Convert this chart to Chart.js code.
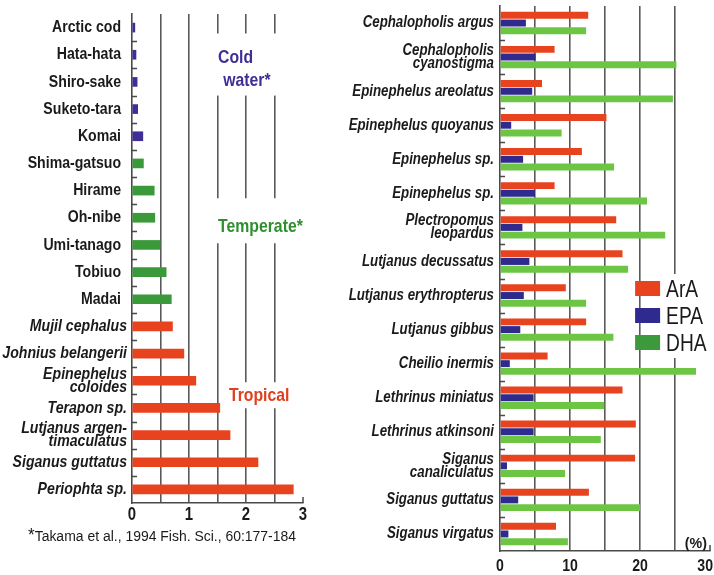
<!DOCTYPE html>
<html>
<head>
<meta charset="utf-8">
<script src="https://cdn.jsdelivr.net/npm/chart.js@4.4.1/dist/chart.umd.min.js"></script>
<style>
  html, body { margin: 0; padding: 0; background: #fff; }
  body { width: 714px; height: 575px; position: relative; overflow: hidden; }
  #left { position: absolute; left: 0; top: 0; }
  #right { position: absolute; left: 330px; top: 0; }
  #note {
    position: absolute; left: 28px; top: 527px; white-space: nowrap;
    transform: scaleX(0.9); transform-origin: left top;
    font: 15.5px 'Liberation Sans', Arial, sans-serif; color: #1a1a1a;
  }
  #note span { font-size: 19px; line-height: 10px; }
</style>
</head>
<body>
<canvas id="left" width="320" height="575"></canvas>
<canvas id="right" width="384" height="575"></canvas>
<div id="note"><span>*</span>Takama et al., 1994 Fish. Sci., 60:177-184</div>
<script>
// ---- Left panel: ArA content by species, grouped by habitat ----
const leftSpecies = [
  'Arctic cod', 'Hata-hata', 'Shiro-sake', 'Suketo-tara', 'Komai',
  'Shima-gatsuo', 'Hirame', 'Oh-nibe', 'Umi-tanago', 'Tobiuo', 'Madai',
  'Mujil cephalus', 'Johnius belangerii', ['Epinephelus', 'coloides'], 'Terapon sp.',
  ['Lutjanus argen-', 'timaculatus'], 'Siganus guttatus', 'Periophta sp.'
];
const leftValues = [0.05, 0.07, 0.09, 0.10, 0.19, 0.20, 0.39, 0.40, 0.49, 0.60, 0.69,
                    0.71, 0.91, 1.12, 1.54, 1.72, 2.21, 2.83];
const leftHabitat = ['cold', 'cold', 'cold', 'cold', 'cold',
  'temperate', 'temperate', 'temperate', 'temperate', 'temperate', 'temperate',
  'tropical', 'tropical', 'tropical', 'tropical', 'tropical', 'tropical', 'tropical'];
const leftTickLabels = [0, 1, 2, 3];

// ---- Right panel: ArA / EPA / DHA (%) in tropical reef fish ----
const rightSpecies = [
  'Cephalopholis argus', ['Cephalopholis', 'cyanostigma'], 'Epinephelus areolatus',
  'Epinephelus quoyanus', 'Epinephelus sp.', 'Epinephelus sp.', ['Plectropomus', 'leopardus'],
  'Lutjanus decussatus', 'Lutjanus erythropterus', 'Lutjanus gibbus', 'Cheilio inermis',
  'Lethrinus miniatus', 'Lethrinus atkinsoni', ['Siganus', 'canaliculatus'],
  'Siganus guttatus', 'Siganus virgatus'
];
const araValues = [12.6, 7.8, 6.0, 15.2, 11.7, 7.8, 16.6, 17.5, 9.4, 12.3, 6.8, 17.5, 19.4, 19.3, 12.7, 8.0];
const epaValues = [3.7, 5.1, 4.6, 1.6, 3.3, 5.0, 3.2, 4.2, 3.4, 2.9, 1.4, 4.8, 4.8, 1.0, 2.6, 1.2];
const dhaValues = [12.3, 25.2, 24.7, 8.8, 16.3, 21.0, 23.6, 18.3, 12.3, 16.2, 28.0, 14.9, 14.4, 9.3, 20.0, 9.7];
const seriesNames = ['ArA', 'EPA', 'DHA'];
const rightTickLabels = [0, 10, 20, 30];

// ---- Styling ----
const FONT = "'Liberation Sans', Arial, sans-serif";
const NARROW = 0.83;          // horizontal squeeze giving a condensed face
const INK = '#1a1a1a';
const AXIS = '#4a4a4a';
const GRID = '#5a5a5a';
const RED = '#e8431f';
const habitatColor = { cold: '#3d2f96', temperate: '#3a9a3a', tropical: RED };
const habitatTextColor = { cold: '#3d2f96', temperate: '#2f8f2f', tropical: '#e0401e' };
const seriesColors = [RED, '#2f2b8e', '#6cc644'];
const swatchColors = [RED, '#2f2b8e', '#3c9a3c'];

Chart.defaults.font.family = FONT;
Chart.defaults.color = INK;

// Draw text condensed horizontally around its anchor
function narrowText(ctx, text, x, y, squeeze) {
  ctx.save();
  ctx.translate(x, y);
  ctx.scale(squeeze, 1);
  ctx.fillText(text, 0, 0);
  ctx.restore();
}

// Category names (multi-line where needed) and value-axis numbers, condensed
const axisText = (cfg) => ({
  id: 'axisText',
  afterDraw(chart) {
    const { ctx, chartArea } = chart;
    const x = chart.scales.x, y = chart.scales.y;
    ctx.save();
    ctx.fillStyle = INK;
    ctx.textBaseline = 'middle';
    ctx.textAlign = 'right';
    chart.data.labels.forEach((lab, i) => {
      const lines = Array.isArray(lab) ? lab : [lab];
      const italic = cfg.italic(i);
      ctx.font = (italic ? 'italic ' : '') + 'bold ' + cfg.labelSize + 'px ' + FONT;
      const cy = y.getPixelForValue(i);
      const right = chartArea.left - (italic ? cfg.padItalic : cfg.padNormal);
      lines.forEach((t, k) => {
        narrowText(ctx, t, right, cy + (k - (lines.length - 1) / 2) * cfg.lineGap, NARROW);
      });
    });
    ctx.textAlign = 'center';
    ctx.font = 'bold ' + cfg.tickSize + 'px ' + FONT;
    cfg.ticks.forEach(v => {
      const t = String(v);
      const half = ctx.measureText(t).width * NARROW / 2;
      const px = Math.min(x.getPixelForValue(v), chart.width - half - 1);
      narrowText(ctx, t, px, chartArea.bottom + cfg.tickGap, NARROW);
    });
    ctx.restore();
  }
});

// Short inward tick marks on the category axis, one at every category boundary,
// plus a small upward tick at the end of the value axis.
const axisMarks = {
  id: 'axisMarks',
  afterDraw(chart) {
    const { ctx, chartArea } = chart;
    const y = chart.scales.y, x = chart.scales.x;
    ctx.save();
    ctx.strokeStyle = AXIS;
    ctx.lineWidth = 1.5;
    ctx.beginPath();
    for (let i = 1; i < chart.data.labels.length; i++) {
      const py = Math.round((y.getPixelForValue(i - 1) + y.getPixelForValue(i)) / 2) + 0.5;
      ctx.moveTo(chartArea.left, py);
      ctx.lineTo(chartArea.left + 5, py);
    }
    const px = x.getPixelForValue(x.max);
    ctx.moveTo(px, chartArea.bottom);
    ctx.lineTo(px, chartArea.bottom - 6);
    ctx.stroke();
    ctx.restore();
  }
};

// Habitat captions written over the grid with a white backing
const habitatNotes = [
  { group: 'cold', lines: [['Cold', 1.51, 1.1], ['water*', 1.60, 1.95]], padTop: 17, padBottom: 8 },
  { group: 'temperate', lines: [['Temperate*', 1.51, 7.35]], padTop: 22, padBottom: 9 },
  { group: 'tropical', lines: [['Tropical', 1.70, 13.57]], padTop: 7, padBottom: 5 }
];
const habitatCaptions = {
  id: 'habitatCaptions',
  afterDraw(chart) {
    const { ctx } = chart;
    const x = chart.scales.x, y = chart.scales.y;
    ctx.save();
    ctx.font = 'bold 19px ' + FONT;
    ctx.textBaseline = 'middle';
    ctx.textAlign = 'left';
    habitatNotes.forEach(note => {
      const pts = note.lines.map(([t, xv, iv]) => ({
        t, px: x.getPixelForValue(xv), py: y.getPixelForValue(iv), w: ctx.measureText(t).width * NARROW
      }));
      const l = Math.min(...pts.map(p => p.px)) - 7;
      const r = Math.max(...pts.map(p => p.px + p.w)) + 7;
      const top = Math.min(...pts.map(p => p.py)) - 7 - note.padTop;
      const bot = Math.max(...pts.map(p => p.py)) + 7 + note.padBottom;
      ctx.fillStyle = '#fff';
      ctx.fillRect(l, top, r - l, bot - top);
      ctx.fillStyle = habitatTextColor[note.group];
      pts.forEach(p => narrowText(ctx, p.t, p.px, p.py, NARROW));
    });
    ctx.restore();
  }
};

// Legend and unit label for the right panel
const seriesLegend = {
  id: 'seriesLegend',
  afterDraw(chart) {
    const { ctx, chartArea } = chart;
    const x = chart.scales.x;
    ctx.save();
    const sx = x.getPixelForValue(19.3);
    const tx = sx + 31;
    const rowY = [289, 316, 343];
    ctx.fillStyle = '#fff';
    ctx.fillRect(tx - 3, 274, chart.width - tx + 3, 84);
    ctx.font = '24px ' + FONT;
    ctx.textBaseline = 'middle';
    ctx.textAlign = 'left';
    chart.data.datasets.forEach((ds, i) => {
      ctx.fillStyle = swatchColors[i];
      ctx.fillRect(sx, rowY[i] - 8, 25, 15);
      ctx.fillStyle = INK;
      narrowText(ctx, ds.label, tx, rowY[i] + 1, 0.8);
    });
    ctx.font = 'bold 15px ' + FONT;
    ctx.textAlign = 'right';
    ctx.textBaseline = 'alphabetic';
    narrowText(ctx, '(%)', chartArea.right - 3, chartArea.bottom - 3, 0.95);
    ctx.restore();
  }
};

const gridColor = (max) => (ctx) => (ctx.tick && (ctx.tick.value === 0 || ctx.tick.value === max)) ? 'rgba(0,0,0,0)' : GRID;

// ---- Left chart ----
new Chart(document.getElementById('left'), {
  type: 'bar',
  data: {
    labels: leftSpecies,
    datasets: [{
      data: leftValues,
      backgroundColor: leftHabitat.map(h => habitatColor[h]),
      barThickness: 9
    }]
  },
  options: {
    indexAxis: 'y',
    responsive: false,
    animation: false,
    layout: { padding: { top: 14, right: 17, bottom: 0, left: 0 } },
    plugins: { legend: { display: false }, tooltip: { enabled: false } },
    scales: {
      x: {
        min: 0, max: 3,
        ticks: { stepSize: 0.5, autoSkip: false, display: false },
        grid: { color: gridColor(3), lineWidth: 1.6, drawTicks: false },
        border: { color: AXIS, width: 1.6 },
        afterFit: s => { s.height = 72; s.paddingLeft = 0; s.paddingRight = 0; }
      },
      y: {
        ticks: { display: false },
        grid: { display: false, drawTicks: false },
        border: { color: AXIS, width: 1.6 },
        afterFit: s => { s.width = 132; s.paddingTop = 0; s.paddingBottom = 0; }
      }
    }
  },
  plugins: [axisMarks, habitatCaptions, axisText({
    italic: i => leftHabitat[i] === 'tropical',
    labelSize: 17, padNormal: 11, padItalic: 5, lineGap: 13,
    ticks: leftTickLabels, tickSize: 18, tickGap: 12.5
  })]
});

// ---- Right chart ----
new Chart(document.getElementById('right'), {
  type: 'bar',
  data: {
    labels: rightSpecies,
    datasets: [araValues, epaValues, dhaValues].map((vals, i) => ({
      label: seriesNames[i],
      data: vals,
      backgroundColor: seriesColors[i],
      categoryPercentage: 0.68,
      barPercentage: 0.9
    }))
  },
  options: {
    indexAxis: 'y',
    responsive: false,
    animation: false,
    layout: { padding: { top: 6, right: 4, bottom: 0, left: 0 } },
    plugins: { legend: { display: false }, tooltip: { enabled: false } },
    scales: {
      x: {
        min: 0, max: 30,
        ticks: { stepSize: 5, autoSkip: false, display: false },
        grid: { color: gridColor(30), lineWidth: 1.6, drawTicks: false },
        border: { color: AXIS, width: 1.6 },
        afterFit: s => { s.height = 24; s.paddingLeft = 0; s.paddingRight = 0; }
      },
      y: {
        ticks: { display: false },
        grid: { display: false, drawTicks: false },
        border: { color: AXIS, width: 1.6 },
        afterFit: s => { s.width = 170; s.paddingTop = 0; s.paddingBottom = 0; }
      }
    }
  },
  plugins: [axisMarks, seriesLegend, axisText({
    italic: () => true,
    labelSize: 16, padNormal: 6, padItalic: 6, lineGap: 13,
    ticks: rightTickLabels, tickSize: 17, tickGap: 15
  })]
});
</script>
</body>
</html>
